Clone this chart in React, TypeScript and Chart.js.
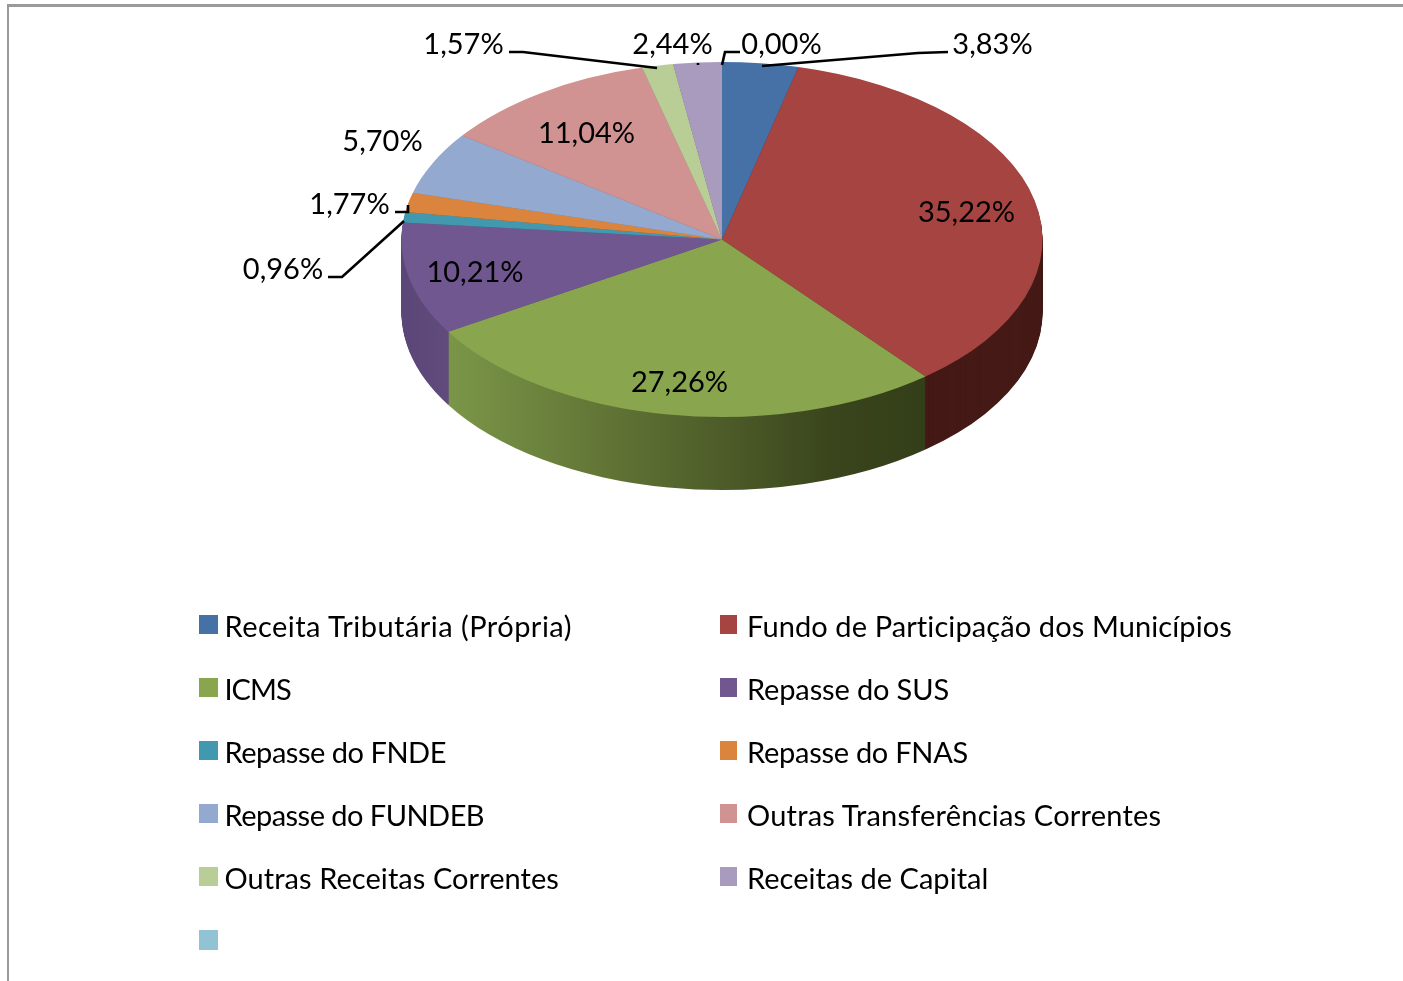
import React, { useEffect, useRef } from "react";
import { Chart, registerables } from "chart.js";

Chart.register(...registerables);

const categories = [
  "Receita Tributária (Própria)",
  "Fundo de Participação dos Municípios",
  "ICMS",
  "Repasse do SUS",
  "Repasse do FNDE",
  "Repasse do FNAS",
  "Repasse do FUNDEB",
  "Outras Transferências Correntes",
  "Outras Receitas Correntes",
  "Receitas de Capital",
  "",
];
const values = [3.83, 35.22, 27.26, 10.21, 0.96, 1.77, 5.7, 11.04, 1.57, 2.44, 0.0];
const valueLabels = ["3,83%", "35,22%", "27,26%", "10,21%", "0,96%", "1,77%", "5,70%", "11,04%", "1,57%", "2,44%", "0,00%"];
const sliceColors = ["#4571a7", "#a64441", "#89a54e", "#71578f", "#4198af", "#db843d", "#93a9cf", "#d19392", "#b9cd96", "#a99bbd", "#92c3d5"];
const legendColors = ["#4571a7", "#a64441", "#89a54e", "#71578f", "#4198af", "#db843d", "#93a9cf", "#d19392", "#b9cd96", "#a99bbd", "#92c3d5"];
const sideColors = ["#2a4365", "#451a16", "#5a6d33", "#5f4a7c", "#2a6070", "#8a5226", "#6a7c9a", "#8a6160", "#7c8a64", "#70667e", "#92c3d5"];
const legendSpacing = [0.46, 0.1, -1, -0.14, -0.47, -0.27, -0.53, 0.2, 0.06, 0.03, 0];

const labelCentres: [number, number][] = [
  [992.5, 45], [966.5, 213], [679.5, 383], [475, 273], [283, 270], [349.5, 205], [382.5, 142], [586.5, 134], [463.5, 45], [672.5, 45], [781.5, 45],
];
const leaders: [number, number][][] = [
  [[948, 52], [918, 53], [762, 66]],
  [[328, 277], [342, 277], [404, 221]],
  [[395, 212], [408, 212], [408, 205]],
  [[509, 52], [523, 52], [657, 68]],
  [[740, 52], [725, 52], [722, 65]],
  [[698, 63], [698, 65]],
];

const RX = 320.5;
const RY = 177.5;
const CX = 722;
const CY = 239.5;
const DEPTH = 73;
const FONT = "29px Lato, sans-serif";

const pie3d = {
  id: "pie3d",
  beforeDatasetsDraw(chart: any) {
    const ctx = chart.ctx as CanvasRenderingContext2D;
    const cy0 = (chart.chartArea.top + chart.chartArea.bottom) / 2;
    const apply = (dy: number) => {
      ctx.translate(0, CY + dy);
      ctx.scale(1, RY / RX);
      ctx.translate(0, -cy0);
    };
    const grad = ctx.createLinearGradient(447, 0, 925, 0);
    grad.addColorStop(0, "#7b9648");
    grad.addColorStop(0.45, "#58692f");
    grad.addColorStop(0.8, "#3a451d");
    grad.addColorStop(1, "#333f18");
    const purple = ctx.createLinearGradient(402, 0, 447, 0);
    purple.addColorStop(0, "#5a4677");
    purple.addColorStop(1, "#614b7d");
    const arcs = chart.getDatasetMeta(0).data as any[];
    for (let d = DEPTH; d >= 1; d--) {
      arcs.forEach((arc, i) => {
        const saved = arc.options;
        let fill: any = sideColors[i];
        if (i === 2) fill = grad;
        if (i === 3) fill = purple;
        arc.options = { ...saved, backgroundColor: fill, borderColor: fill, borderWidth: 0 };
        ctx.save();
        apply(d);
        arc.draw(ctx);
        ctx.restore();
        arc.options = saved;
      });
    }
    ctx.save();
    apply(0);
  },
  afterDatasetsDraw(chart: any) {
    chart.ctx.restore();
  },
  afterDraw(chart: any) {
    const ctx = chart.ctx as CanvasRenderingContext2D;
    ctx.save();
    ctx.strokeStyle = "#000";
    ctx.lineWidth = 2.6;
    leaders.forEach((pts) => {
      ctx.beginPath();
      pts.forEach(([x, y], i) => (i ? ctx.lineTo(x, y) : ctx.moveTo(x, y)));
      ctx.stroke();
    });
    ctx.fillStyle = "#000";
    ctx.font = FONT;
    ctx.textAlign = "center";
    ctx.textBaseline = "middle";
    valueLabels.forEach((t, i) => ctx.fillText(t, labelCentres[i][0], labelCentres[i][1]));
    ctx.restore();
  },
};

export default function App() {
  const ref = useRef<HTMLCanvasElement>(null);
  useEffect(() => {
    const chart = new Chart(ref.current!, {
      type: "pie",
      data: {
        labels: categories,
        datasets: [{ data: values, backgroundColor: sliceColors, borderWidth: 0, clip: false } as any],
      },
      options: {
        responsive: false,
        animation: false,
        layout: { padding: { left: CX - RX, right: 1403 - CX - RX, top: 0, bottom: 981 - 2 * RX } },
        plugins: { legend: { display: false }, tooltip: { enabled: false } },
      },
      plugins: [pie3d as any],
    });
    return () => chart.destroy();
  }, []);

  return (
    <div style={{ position: "fixed", left: 0, top: 0, width: 1403, height: 981, overflow: "hidden", background: "#fff", filter: "blur(0.45px)" }}>
      <div style={{ position: "absolute", left: 7, top: 4, width: 1500, height: 1100, borderLeft: "2px solid #9a9a9a", borderTop: "3px solid #9a9a9a" }} />
      <canvas ref={ref} width={1403} height={981} style={{ position: "absolute", left: 0, top: 0 }} />
      {categories.map((c, i) => {
        const col = i % 2;
        const row = Math.floor(i / 2);
        const x = col ? 720 : 199;
        const y = 615 + row * 63;
        return (
          <React.Fragment key={i}>
            <div style={{ position: "absolute", left: x, top: y, width: col ? 17 : 19, height: row === 5 ? 20 : 19, background: legendColors[i] }} />
            {c && (
              <div style={{ position: "absolute", left: col ? 747 : 224.5, top: y - 8, font: FONT, lineHeight: "38px", letterSpacing: legendSpacing[i], fontVariantLigatures: "none", whiteSpace: "nowrap", color: "#000" }}>{c}</div>
            )}
          </React.Fragment>
        );
      })}
    </div>
  );
}
